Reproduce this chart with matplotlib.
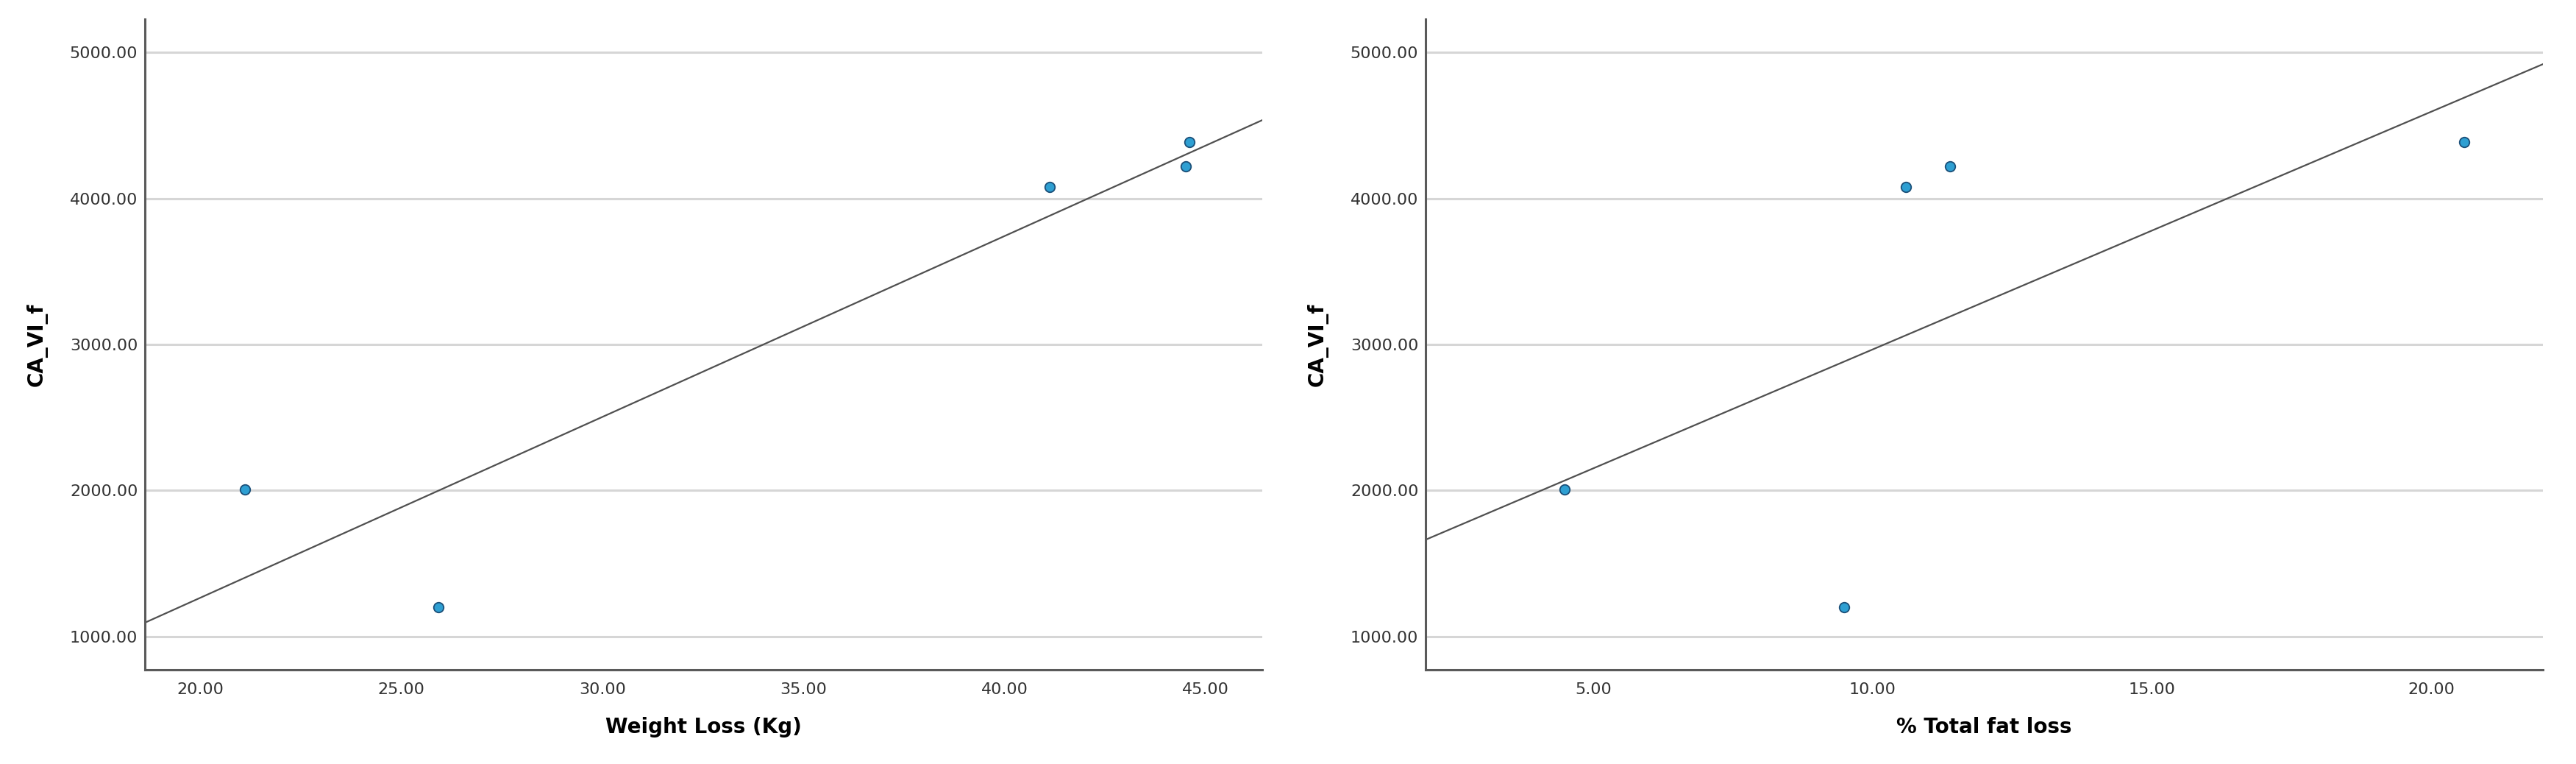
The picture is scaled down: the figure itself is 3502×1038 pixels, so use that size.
import matplotlib
matplotlib.use('Agg')
import matplotlib.pyplot as plt
import numpy as np

# Dados (SPSS): CA_VI_f vs perda de peso / % gordura
ca_vi_f = [2010, 1200, 4080, 4220, 4385]
weight_loss = [21.11, 25.92, 41.12, 44.51, 44.60]
fat_loss = [4.49, 9.49, 10.60, 11.39, 20.59]

x_labels = ['Weight Loss (Kg)', '% Total fat loss']
x_ticks = [[20, 25, 30, 35, 40, 45], [5, 10, 15, 20]]
x_limits = [(18.62, 46.41), (2.0, 22.0)]
y_ticks = [1000, 2000, 3000, 4000, 5000]

fig = plt.figure(figsize=(35.02, 10.38), dpi=100)
positions = [[0.05625, 0.1233, 0.4337, 0.8516], [0.5534, 0.1233, 0.4337, 0.8516]]

for pos, xs, xlab, xt, xl in zip(positions, [weight_loss, fat_loss], x_labels, x_ticks, x_limits):
    ax = fig.add_axes(pos)
    ax.scatter(xs, ca_vi_f, s=95, color='#2e9fd2', edgecolor='#1b4f78', linewidth=1.3, zorder=3)

    # reta de regressão (mínimos quadrados) de ponta a ponta
    slope, inter = np.polyfit(xs, ca_vi_f, 1)
    lx = np.array(xl)
    ax.plot(lx, slope * lx + inter, color='#505050', lw=1.6, zorder=2)

    ax.set_xlim(xl)
    ax.set_ylim(773, 5227)
    ax.set_xticks(xt)
    ax.set_yticks(y_ticks)
    ax.xaxis.set_major_formatter(plt.FormatStrFormatter('%.2f'))
    ax.yaxis.set_major_formatter(plt.FormatStrFormatter('%.2f'))
    ax.tick_params(length=0, labelsize=16, labelcolor='#333333')
    ax.tick_params(axis='x', pad=12)
    ax.tick_params(axis='y', pad=7)

    ax.yaxis.grid(True, color='#d6d6d6', lw=2.2)
    ax.set_axisbelow(True)
    for side in ['top', 'right']:
        ax.spines[side].set_visible(False)
    for side in ['left', 'bottom']:
        ax.spines[side].set_color('#5a5a5a')
        ax.spines[side].set_linewidth(2.2)

    ax.set_xlabel(xlab, fontsize=20, weight='bold', labelpad=20)
    ax.set_ylabel('CA_VI_f', fontsize=20, weight='bold', labelpad=22)

fig.savefig('out.png', dpi=100, facecolor='white')
